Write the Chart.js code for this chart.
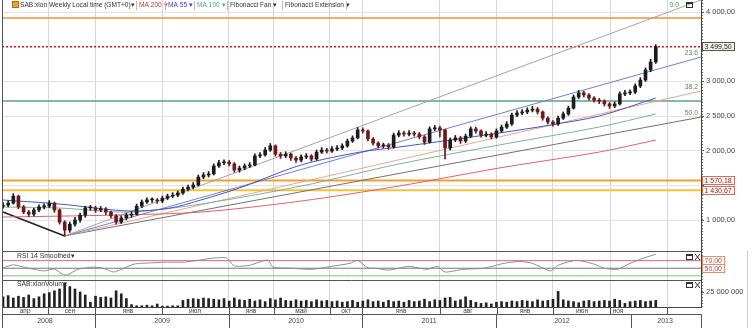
<!DOCTYPE html>
<html>
<head>
<meta charset="utf-8">
<script src="https://cdn.jsdelivr.net/npm/chart.js@4.4.1/dist/chart.umd.min.js"></script>
<style>
  html, body { margin: 0; padding: 0; background: #fff; }
  #wrap { width: 752px; height: 328px; }
</style>
</head>
<body>
<div id="wrap"><canvas id="chart" width="752" height="328"></canvas></div>
<script>
// Weekly SAB:xlon, one candle per two weeks (week 0 = late April 2008)
const opens = [1200,1215,1245,1345,1190,1115,1085,1145,1190,1200,
  1245,1145,970,855,940,1000,1070,1175,1175,1145,
  1160,1115,1060,970,1030,1070,1085,1200,1260,1290,
  1290,1275,1315,1345,1360,1390,1445,1475,1505,1620,
  1650,1665,1780,1825,1835,1810,1720,1750,1780,1795,
  1925,1940,2010,2070,1950,1925,1950,1895,1865,1910,
  1925,1880,1980,2010,1995,2025,2040,2070,2140,2185,
  2300,2285,2170,2110,2070,2080,2055,2225,2255,2240,
  2255,2240,2200,2125,2315,2330,2300,2040,2155,2185,
  2140,2210,2315,2285,2225,2240,2200,2285,2340,2385,
  2515,2545,2560,2585,2600,2560,2470,2415,2385,2470,
  2530,2615,2775,2835,2805,2760,2730,2715,2675,2645,
  2675,2820,2835,2845,2935,3020,3165,3280];
const highs = [1250,1280,1380,1360,1210,1140,1170,1220,1235,1280,
  1260,1160,990,970,1040,1100,1200,1210,1200,1195,
  1180,1130,1080,1060,1100,1120,1230,1290,1320,1320,
  1310,1345,1375,1395,1420,1475,1505,1540,1650,1685,
  1700,1810,1860,1870,1860,1830,1780,1810,1830,1955,
  1975,2045,2105,2085,1975,1985,1965,1915,1940,1960,
  1945,2010,2045,2035,2060,2075,2100,2170,2215,2335,
  2330,2300,2190,2130,2110,2105,2255,2290,2280,2290,
  2280,2265,2220,2345,2365,2355,2310,2185,2220,2210,
  2240,2345,2340,2300,2275,2260,2315,2370,2420,2545,
  2580,2595,2620,2640,2625,2575,2490,2435,2500,2560,
  2645,2805,2870,2860,2825,2780,2755,2735,2695,2705,
  2850,2870,2880,2965,3055,3195,3320,3530];
const lows = [1170,1190,1230,1160,1090,1050,1060,1120,1160,1180,
  1110,940,770,820,910,970,1040,1140,1110,1120,
  1080,1030,940,950,1000,1040,1070,1180,1240,1255,
  1240,1250,1295,1320,1335,1370,1420,1450,1490,1595,
  1620,1650,1760,1800,1780,1690,1690,1725,1755,1780,
  1900,1920,1990,1920,1890,1900,1860,1830,1840,1885,
  1850,1860,1960,1965,1975,2000,2015,2050,2120,2170,
  2255,2140,2080,2040,2040,2020,2035,2200,2210,2215,
  2210,2170,2090,2110,2290,2200,1880,2010,2130,2105,
  2115,2190,2255,2195,2200,2170,2180,2265,2320,2365,
  2490,2520,2535,2560,2530,2440,2385,2355,2365,2450,
  2510,2600,2750,2775,2730,2700,2680,2645,2610,2620,
  2660,2795,2810,2825,2910,3000,3140,3260];
const closes = [1215,1245,1345,1190,1115,1085,1145,1190,1200,1245,
  1145,970,855,940,1000,1070,1175,1175,1145,1160,
  1115,1060,970,1030,1070,1085,1200,1260,1290,1290,
  1275,1315,1345,1360,1390,1445,1475,1505,1620,1650,
  1665,1780,1825,1835,1810,1720,1750,1780,1795,1925,
  1940,2010,2070,1950,1925,1950,1895,1865,1910,1925,
  1880,1980,2010,1995,2025,2040,2070,2140,2185,2300,
  2285,2170,2110,2070,2080,2055,2225,2255,2240,2255,
  2240,2200,2125,2315,2330,2300,2040,2155,2185,2140,
  2210,2315,2285,2225,2240,2200,2285,2340,2385,2515,
  2545,2560,2585,2600,2560,2470,2415,2385,2470,2530,
  2615,2775,2835,2805,2760,2730,2715,2675,2645,2675,
  2820,2835,2845,2935,3020,3165,3280,3499.5];
// volume, millions of shares
const volumes = [17,19,15,18,16,20,14,17,22,24,
  27,30,40,34,30,25,20,8,18,16,
  17,15,27,22,14,4,2,2,3,2,
  5,1.5,1.5,2,2,11,13,14,13,15,
  14,13,12,14,10,15,12,11,13,10,
  12,9,14,12,15,11,10,12,10,11,
  9,12,10,11,9,10,8,9,11,8,
  10,12,9,10,8,11,9,10,8,11,
  9,10,13,9,12,11,15,16,10,12,
  17,11,8,6,7,5,8,9,8,10,
  9,11,10,9,12,10,11,13,26,12,
  10,9,7,10,11,9,10,11,10,13,
  11,6,9,10,11,9,10,11];

const rsiWeeks = [0,4,10,16,20,23,25,29,35,39,43,47,51,57,64,70,77,82,87,90,
  96,103,105,112,120,126,135,138,142,145,150,158,165,169,172,179,187,195,201,206,
  213,216,223,230,234,239,244,249,254];
const rsiValues = [51,59,50,43,48,35,32,47,53,50,40,50,61,64,66,66,72,77,77,56,
  58,72,53,50,47,53,63,71,51,50,45,55,47,55,40,47,50,63,68,63,
  43,58,71,61,50,47,63,76,87];
const rsiLevels = [70, 50, 30];

const ma55Weeks = [0,22,49,65,77,92,116,139,154,174,193,213,232,254];
const ma55Values = [1289,1231,1130,1173,1289,1462,1794,1981,2053,2154,2255,2371,2501,2760];
const ma100Weeks = [0,22,49,77,116,154,193,232,254];
const ma100Values = [1188,1173,1115,1231,1490,1808,2082,2342,2530];
const ma200Weeks = [0,44,77,116,154,193,232,254];
const ma200Values = [1043,1072,1115,1274,1490,1750,1981,2154];

// Fibonacci fan from the 2008 low to the right edge
const fanOrigin = { week: 24, price: 770 };
const fanLabels = ['0.0', '23.6', '38.2', '50.0'];
const fanEndPrices = [4175, 3352, 2862, 2486];
const trendWeeks = [0, 24];
const trendPrices = [1115, 770];

// horizontal levels (Fibonacci extension + last price)
const levelValues = [3915, 3499.5, 2717, 1570.18, 1430.67];
const boxedLevels = [3499.5, 1570.18, 1430.67];

const priceTicks = [1000, 1500, 2000, 2500, 3000, 3500, 4000];
const priceTickLabels = ['1 000,00', '', '2 000,00', '2 500,00', '3 000,00', '', '4 000,00'];
const volTicks = [25];
const volTickLabels = ['25 000 000'];

// time axis (weeks)
const gridWeeks = [17.5, 35.8, 61.9, 87.9, 105.4, 127.2, 139.7, 170, 192.2, 214, 236.2, 258.4];
const monthLabels = ['апр', 'сен', 'янв', 'июл', 'янв', 'май', 'окт', 'янв', 'авг', 'янв', 'июн', 'ноя'];
const monthLabelWeeks = [8.6, 26.1, 48.6, 74.7, 96.5, 116, 133.5, 154.9, 180.9, 203.1, 225.3, 239.3];
const yearLabels = ['2008', '2009', '2010', '2011', '2012', '2013'];
const yearLabelWeeks = [16.3, 61.9, 114, 165.8, 217.5, 257.6];
const yearBoundaryWeeks = [35.8, 87.9, 139.7, 191.8, 244.4, 271.6];

const candleWeeks = closes.map((_, i) => i * 2);

const FONT = 'Liberation Sans, Arial, sans-serif';
Chart.defaults.font.family = FONT;

function fmt(v, d) {
  const parts = v.toFixed(d).split('.');
  const s = parts[0].replace(/\B(?=(\d{3})+(?!\d))/g, ' ');
  return parts[1] ? s + ',' + parts[1] : s;
}

const candleColors = closes.map((c, i) => c < opens[i] ? '#6e1a1a' : '#1c1c1c');
const levelColors = ['#e6953c', '#cc2020', '#5f9f8c', '#f0a030', '#f2c23e'];
const levelWidths = [1.5, 1.5, 1.5, 2, 2];
const fanColors = ['#a4a4a4', '#7080d0', '#e8a690', '#727272'];
const X_MIN = -0.4, X_MAX = 271.6;

const datasets = [
  {
    type: 'bar', label: 'bodies', yAxisID: 'y', grouped: false,
    data: candleWeeks.map((w, i) => ({ x: w, y: [opens[i], closes[i]] })),
    backgroundColor: candleColors, barThickness: 3, minBarLength: 1
  },
  {
    type: 'bar', label: 'wicks', yAxisID: 'y', grouped: false,
    data: candleWeeks.map((w, i) => ({ x: w, y: [lows[i], highs[i]] })),
    backgroundColor: candleColors, barThickness: 1
  },
  { type: 'line', label: 'MA 55', yAxisID: 'y', data: ma55Weeks.map((w, i) => ({ x: w, y: ma55Values[i] })),
    borderColor: '#4656c4', borderWidth: 1, pointRadius: 0, tension: 0.3 },
  { type: 'line', label: 'MA 100', yAxisID: 'y', data: ma100Weeks.map((w, i) => ({ x: w, y: ma100Values[i] })),
    borderColor: '#7fb0a2', borderWidth: 1, pointRadius: 0, tension: 0.3 },
  { type: 'line', label: 'MA 200', yAxisID: 'y', data: ma200Weeks.map((w, i) => ({ x: w, y: ma200Values[i] })),
    borderColor: '#e06070', borderWidth: 1, pointRadius: 0, tension: 0.3 },
  { type: 'line', label: 'trend', yAxisID: 'y', data: trendWeeks.map((w, i) => ({ x: w, y: trendPrices[i] })),
    borderColor: '#222', borderWidth: 1.5, pointRadius: 0 }
];
fanEndPrices.forEach((p, i) => datasets.push({
  type: 'line', label: 'fan ' + fanLabels[i], yAxisID: 'y',
  data: [{ x: fanOrigin.week, y: fanOrigin.price }, { x: X_MAX, y: p }],
  borderColor: fanColors[i], borderWidth: 1, pointRadius: 0
}));
levelValues.forEach((v, i) => datasets.push({
  type: 'line', label: 'level', yAxisID: 'y',
  data: [{ x: X_MIN, y: v }, { x: X_MAX, y: v }],
  borderColor: levelColors[i], borderWidth: levelWidths[i], pointRadius: 0,
  borderDash: i === 1 ? [2, 2] : []
}));
datasets.push({
  type: 'line', label: 'RSI', yAxisID: 'yRsi',
  data: rsiWeeks.map((w, i) => ({ x: w, y: rsiValues[i] })),
  borderColor: '#8c8c8c', borderWidth: 1, pointRadius: 0, tension: 0.2
});
const rsiColors = ['#d86878', '#777', '#7cc47c'];
rsiLevels.forEach((v, i) => datasets.push({
  type: 'line', label: 'rsi level', yAxisID: 'yRsi',
  data: [{ x: X_MIN, y: v }, { x: X_MAX, y: v }],
  borderColor: rsiColors[i], borderWidth: 1, pointRadius: 0
}));
datasets.push({
  type: 'bar', label: 'Volume', yAxisID: 'yVol', grouped: false,
  data: candleWeeks.map((w, i) => ({ x: w, y: volumes[i] })),
  backgroundColor: '#222', barThickness: 2
});

function box(ctx, text, x, yc, border, fill, color) {
  const w = Math.ceil(ctx.measureText(text).width) + 5;
  const top = Math.round(yc - 4.5);
  ctx.fillStyle = fill;
  ctx.fillRect(x, top, w, 9);
  ctx.strokeStyle = border;
  ctx.strokeRect(x + 0.5, top + 0.5, w - 1, 8);
  ctx.fillStyle = color;
  ctx.textAlign = 'left';
  ctx.fillText(text, x + 2.5, top + 5);
}

function icons(ctx, x, y, close) {
  ctx.strokeStyle = '#333';
  ctx.lineWidth = 1;
  ctx.strokeRect(x + 0.5, y + 0.5, 6, 5);
  ctx.beginPath();
  ctx.moveTo(x + 0.5, y + 1.5); ctx.lineTo(x + 6.5, y + 1.5);
  if (close) {
    ctx.moveTo(x + 9, y); ctx.lineTo(x + 14, y + 6);
    ctx.moveTo(x + 14, y); ctx.lineTo(x + 9, y + 6);
  }
  ctx.stroke();
}

const overlay = {
  id: 'overlay',
  afterDraw(chart) {
    const { ctx, chartArea: a } = chart;
    const { x, y, yRsi, yVol } = chart.scales;
    ctx.save();
    ctx.lineWidth = 1;

    // panel frames
    ctx.strokeStyle = '#555';
    ctx.beginPath();
    [y.bottom, yRsi.bottom].forEach(v => {
      ctx.moveTo(a.left, Math.round(v) + 0.5);
      ctx.lineTo(a.right, Math.round(v) + 0.5);
    });
    ctx.moveTo(a.left + 0.5, a.top);
    ctx.lineTo(a.left + 0.5, 328);
    ctx.stroke();
    ctx.setLineDash([1, 2]);
    ctx.strokeStyle = '#666';
    ctx.beginPath();
    ctx.moveTo(a.right + 1.5, a.top);
    ctx.lineTo(a.right + 1.5, a.bottom);
    ctx.stroke();
    ctx.setLineDash([]);

    // x axis: two rows
    ctx.strokeStyle = '#555';
    ctx.beginPath();
    ctx.moveTo(a.left, 314.5); ctx.lineTo(a.right, 314.5);
    gridWeeks.forEach(w => {
      const px = Math.round(x.getPixelForValue(w)) + 0.5;
      ctx.moveTo(px, a.bottom); ctx.lineTo(px, 314);
    });
    yearBoundaryWeeks.forEach(w => {
      const px = Math.round(x.getPixelForValue(w)) + 0.5;
      ctx.moveTo(px, 314); ctx.lineTo(px, 328);
    });
    ctx.stroke();
    ctx.font = '6.5px ' + FONT;
    ctx.fillStyle = '#444';
    ctx.textAlign = 'center';
    ctx.textBaseline = 'middle';
    monthLabels.forEach((t, i) => ctx.fillText(t, x.getPixelForValue(monthLabelWeeks[i]), 311));
    ctx.font = '7px ' + FONT;
    yearLabels.forEach((t, i) => ctx.fillText(t, x.getPixelForValue(yearLabelWeeks[i]), 321));

    // header
    ctx.fillStyle = '#e8a040';
    ctx.fillRect(12, 1, 7, 7);
    ctx.strokeStyle = '#b07020';
    ctx.strokeRect(12.5, 1.5, 6, 6);
    const header = [
      ['SAB:xlon Weekly Local time (GMT+0)▾', 20, '#333'],
      ['MA 200 ▾', 139, '#e03030'],
      ['MA 55 ▾', 168, '#3a44d0'],
      ['MA 100 ▾', 197, '#4aa88a'],
      ['Fibonacci Fan ▾', 230, '#333'],
      ['Fibonacci Extension ▾', 285, '#333']
    ];
    ctx.font = '6.6px ' + FONT;
    ctx.textAlign = 'left';
    header.forEach(([t, hx, c]) => { ctx.fillStyle = c; ctx.fillText(t, hx, 5.5); });
    ctx.strokeStyle = '#bbb';
    ctx.beginPath();
    [136.5, 165.5, 194.5, 227.5, 282.5, 346.5].forEach(sx => { ctx.moveTo(sx, 1); ctx.lineTo(sx, 10); });
    ctx.stroke();

    ctx.fillStyle = '#333';
    ctx.font = '6.8px ' + FONT;
    ctx.fillText('RSI 14 Smoothed▾', 17, yRsi.top + 5.5);
    ctx.fillText('SAB:xlonVolume', 17, yVol.top + 4.5);
    icons(ctx, 686, 2, false);
    icons(ctx, 686, yRsi.top + 3, true);
    icons(ctx, 686, yVol.top + 2, true);

    // fan labels
    ctx.fillStyle = '#4a9a4a';
    ctx.textAlign = 'right';
    fanEndPrices.forEach((p, i) => {
      const ey = y.getPixelForValue(p);
      if (ey < 9) ctx.fillText(fanLabels[i], a.right - 22, 5.5);
      else ctx.fillText(fanLabels[i], a.right - 3, ey - 4);
    });

    // boxed values on the right axis
    ctx.font = '7px ' + FONT;
    box(ctx, fmt(boxedLevels[0], 2), a.right + 1, y.getPixelForValue(boxedLevels[0]), '#555', '#f7f3e2', '#222');
    box(ctx, fmt(boxedLevels[1], 2), a.right + 1, y.getPixelForValue(boxedLevels[1]), '#d07060', '#fff6f2', '#8a2a2a');
    box(ctx, fmt(boxedLevels[2], 2), a.right + 1, y.getPixelForValue(boxedLevels[2]), '#d07060', '#fff6f2', '#8a2a2a');
    box(ctx, fmt(rsiLevels[0], 2), a.right + 1, yRsi.getPixelForValue(rsiLevels[0]), '#e09070', '#fff', '#d03a3a');
    box(ctx, fmt(rsiLevels[1], 2), a.right + 1, yRsi.getPixelForValue(rsiLevels[1]), '#e09070', '#fff', '#d03a3a');

    ctx.strokeStyle = '#ccc';
    ctx.beginPath();
    ctx.moveTo(747.5, yRsi.top); ctx.lineTo(747.5, 328);
    ctx.stroke();
    ctx.restore();
  }
};

function fixY(s) { s.width = 51; s.paddingTop = 0; s.paddingBottom = 0; }

new Chart(document.getElementById('chart'), {
  type: 'bar',
  data: { datasets },
  options: {
    responsive: false,
    animation: false,
    events: [],
    layout: { padding: { left: 2, right: 0, top: 0, bottom: 0 } },
    plugins: { legend: { display: false }, tooltip: { enabled: false } },
    scales: {
      x: {
        type: 'linear', min: X_MIN, max: X_MAX, offset: false,
        afterBuildTicks: s => { s.ticks = gridWeeks.map(v => ({ value: v })); },
        afterFit: s => { s.height = 21; s.paddingLeft = 0; s.paddingRight = 0; },
        ticks: { display: false },
        grid: { color: '#d6d6d6', offset: false, drawTicks: false },
        border: { color: '#444' }
      },
      y: {
        type: 'linear', position: 'right', stack: 'panels', stackWeight: 251,
        min: 553, max: 4175,
        afterBuildTicks: s => { s.ticks = priceTicks.map(v => ({ value: v })); },
        afterFit: fixY,
        ticks: { callback: (v, i) => priceTickLabels[i], color: '#444', font: { size: 7.5 }, padding: 2, autoSkip: false },
        grid: { color: '#e3e3e3', tickColor: '#555', tickLength: 3 },
        border: { color: '#444' }
      },
      yRsi: {
        type: 'linear', position: 'right', stack: 'panels', stackWeight: 29,
        min: 19, max: 95.5,
        afterFit: fixY,
        ticks: { display: false },
        grid: { display: false },
        border: { color: '#444' }
      },
      yVol: {
        type: 'linear', position: 'right', stack: 'panels', stackWeight: 27,
        min: 0, max: 45,
        afterBuildTicks: s => { s.ticks = volTicks.map(v => ({ value: v })); },
        afterFit: fixY,
        ticks: { callback: (v, i) => volTickLabels[i], color: '#444', font: { size: 7.5 }, padding: 2 },
        grid: { drawOnChartArea: false, tickColor: '#555', tickLength: 3 },
        border: { color: '#444' }
      }
    }
  },
  plugins: [overlay]
});
</script>
</body>
</html>
